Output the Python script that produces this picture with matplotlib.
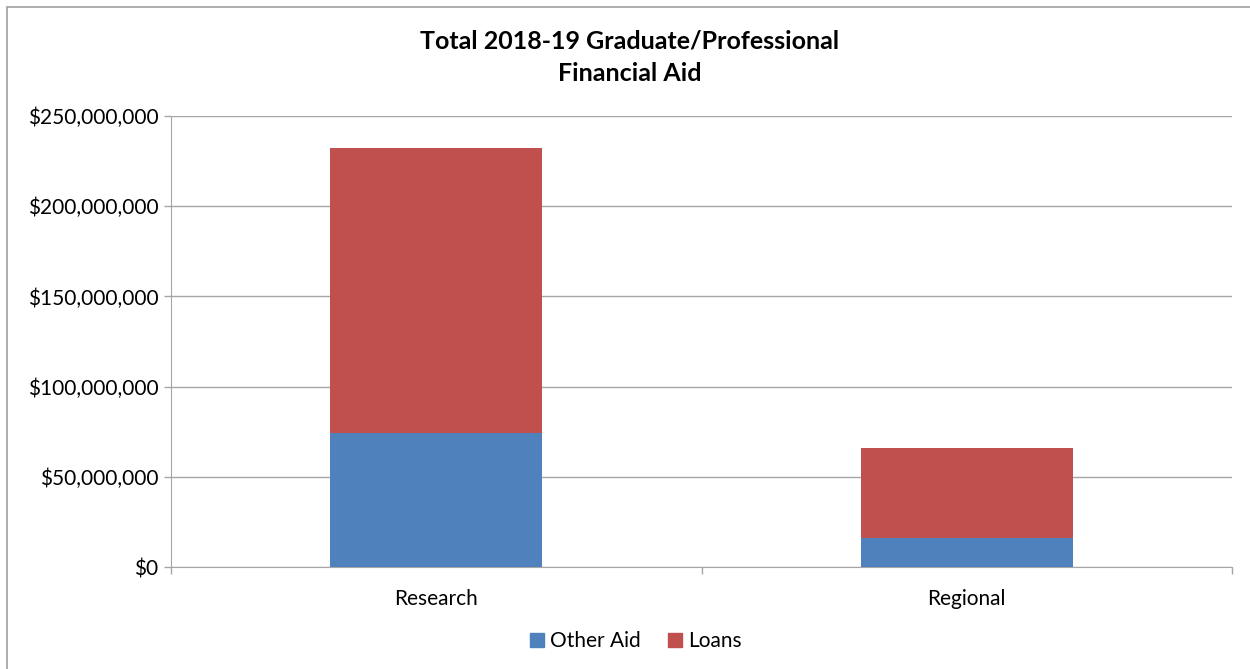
#!/usr/bin/env python3
# -*- coding: utf-8 -*-
"""
Total 2018-19 Graduate/Professional Financial Aid - stacked bars.
"""

import matplotlib
matplotlib.use('Agg')
import matplotlib.pyplot as plt
from matplotlib.patches import Rectangle, Patch
from matplotlib.ticker import FuncFormatter, FixedLocator

# Данные
categories = ['Research', 'Regional']
other_aid = [74_300_000, 16_100_000]
loans = [158_000_000, 49_900_000]
y_ticks = [0, 50_000_000, 100_000_000, 150_000_000, 200_000_000, 250_000_000]

# Стиль
BLUE = '#4F81BD'
RED = '#C0504D'
GRID = '#A6A6A6'
plt.rcParams['font.family'] = ['Lato', 'DejaVu Sans']

fig = plt.figure(figsize=(12.5, 6.69), dpi=100)
fig.patch.set_facecolor('white')

# Рамка вокруг диаграммы (видны только левая и верхняя стороны)
W, H = 1250, 669
fig.patches.append(Rectangle((7 / W, -0.05), 1.2, 1 - 7 / H + 0.05,
                             transform=fig.transFigure, fill=False,
                             edgecolor='#A0A0A0', linewidth=1.2))

ax = fig.add_axes([171 / W, 1 - 567 / H, (1232 - 171) / W, (567 - 116) / H])

x = list(range(len(categories)))
ax.bar(x, other_aid, width=0.4, color=BLUE, label='Other Aid', zorder=3)
ax.bar(x, loans, width=0.4, bottom=other_aid, color=RED, label='Loans', zorder=3)

ax.set_xlim(-0.5, len(categories) - 0.5)
ax.set_ylim(0, 250_000_000)

# Ось Y
ax.yaxis.set_major_locator(FixedLocator(y_ticks))
ax.yaxis.set_major_formatter(FuncFormatter(lambda v, p: f'${v:,.0f}'))
ax.grid(True, axis='y', color=GRID, linewidth=1.0, zorder=0)
ax.tick_params(axis='y', direction='out', length=5, width=1, color=GRID,
               labelsize=15, pad=4)

# Ось X: деления на границах категорий, подписи по центру
ax.set_xticks([i - 0.5 for i in range(len(categories) + 1)])
ax.set_xticklabels([])
ax.set_xticks(x, minor=True)
ax.set_xticklabels(categories, minor=True)
ax.tick_params(axis='x', which='major', direction='out', length=5, width=1, color=GRID)
ax.tick_params(axis='x', which='minor', length=0, labelsize=15, pad=16)

for side in ['top', 'right']:
    ax.spines[side].set_visible(False)
ax.spines['left'].set_color(GRID)
ax.spines['bottom'].set_color(GRID)

fig.text(630 / W, 1 - 57 / H, 'Total 2018-19 Graduate/Professional\nFinancial Aid',
         ha='center', va='center', fontsize=18, fontweight='bold',
         linespacing=1.5)

handles = [Patch(color=BLUE, label='Other Aid'), Patch(color=RED, label='Loans')]
fig.legend(handles=handles, loc='center', bbox_to_anchor=(636 / W, 1 - 641 / H),
           ncol=2, frameon=False, fontsize=15, handlelength=0.65,
           handleheight=0.65, handletextpad=0.3, columnspacing=1.3)

fig.savefig('out.png', dpi=100, facecolor='white')
